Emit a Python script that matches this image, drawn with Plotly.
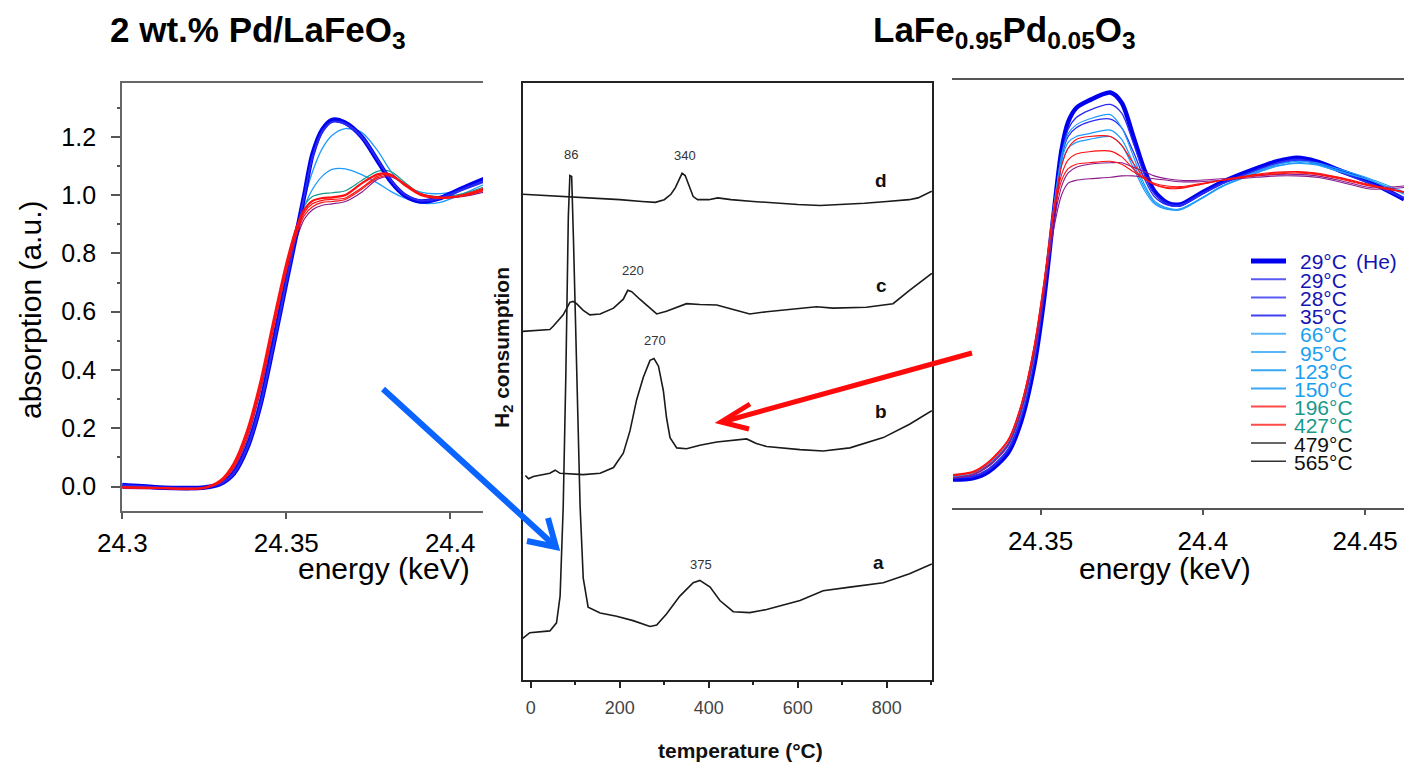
import plotly.graph_objects as go

W, H = 1404, 764
FONT = "Liberation Sans, Arial, sans-serif"

def px(x):
    return x / W

def py(y):
    return 1 - y / H

# ---------------- Left panel: 2 wt.% Pd/LaFeO3 ----------------
E_left = [24.300, 24.310, 24.320, 24.325, 24.330, 24.334, 24.338, 24.342, 24.346, 24.350,
          24.353, 24.3555, 24.358, 24.361, 24.364, 24.368, 24.373, 24.378, 24.382, 24.386,
          24.391, 24.397, 24.404, 24.411]
L_he = [0.005, -0.002, -0.005, -0.003, 0.010, 0.045, 0.130, 0.275, 0.480, 0.700,
        0.862, 1.000, 1.140, 1.225, 1.258, 1.248, 1.200, 1.115, 1.045, 1.000,
        0.978, 0.990, 1.025, 1.058]
L_blue1 = [0.006, -0.001, -0.004, -0.002, 0.012, 0.048, 0.135, 0.280, 0.485, 0.705,
           0.865, 0.998, 1.130, 1.215, 1.250, 1.243, 1.198, 1.118, 1.050, 1.004,
           0.982, 0.992, 1.022, 1.052]
L_blue2 = [0.004, -0.003, -0.006, -0.004, 0.009, 0.043, 0.127, 0.270, 0.475, 0.695,
           0.858, 0.995, 1.132, 1.220, 1.252, 1.246, 1.202, 1.120, 1.048, 1.002,
           0.980, 0.988, 1.018, 1.048]
L_lb1 = [0.008, 0.000, -0.004, -0.002, 0.013, 0.050, 0.140, 0.290, 0.500, 0.715,
         0.870, 0.985, 1.080, 1.160, 1.205, 1.228, 1.215, 1.150, 1.080, 1.035,
         1.010, 1.005, 1.020, 1.050]
L_lb2 = [0.006, -0.001, -0.004, -0.002, 0.014, 0.055, 0.150, 0.300, 0.510, 0.730,
         0.880, 0.960, 1.020, 1.065, 1.088, 1.090, 1.070, 1.040, 1.012, 0.990,
         0.972, 0.975, 1.005, 1.040]
L_teal = [0.000, -0.003, -0.006, -0.002, 0.020, 0.070, 0.180, 0.340, 0.550, 0.750,
          0.890, 0.965, 0.995, 1.005, 1.008, 1.015, 1.050, 1.082, 1.080, 1.045,
          1.005, 0.995, 1.005, 1.030]
L_red1 = [-0.002, -0.004, -0.007, -0.004, 0.022, 0.080, 0.190, 0.355, 0.565, 0.765,
          0.885, 0.950, 0.980, 0.990, 0.992, 1.000, 1.040, 1.072, 1.070, 1.035,
          1.000, 0.990, 1.000, 1.025]
L_red2 = [-0.003, -0.005, -0.008, -0.005, 0.018, 0.072, 0.178, 0.340, 0.550, 0.750,
          0.870, 0.940, 0.970, 0.982, 0.985, 0.990, 1.025, 1.065, 1.068, 1.040,
          1.005, 0.992, 0.998, 1.020]
L_red3 = [-0.004, -0.006, -0.009, -0.006, 0.015, 0.066, 0.170, 0.330, 0.535, 0.735,
          0.860, 0.930, 0.960, 0.975, 0.978, 0.985, 1.020, 1.060, 1.065, 1.040,
          1.005, 0.993, 0.997, 1.018]
L_purple = [-0.006, -0.008, -0.011, -0.008, 0.012, 0.060, 0.160, 0.320, 0.520, 0.720,
            0.845, 0.918, 0.950, 0.965, 0.970, 0.978, 1.010, 1.055, 1.062, 1.038,
            1.003, 0.990, 0.995, 1.012]

# ---------------- Right panel: LaFe0.95Pd0.05O3 ----------------
E_right = [24.323, 24.329, 24.334, 24.340, 24.344, 24.348, 24.351, 24.354, 24.3565, 24.3585,
           24.361, 24.365, 24.3715, 24.375, 24.3785, 24.382, 24.385, 24.389, 24.393, 24.399,
           24.406, 24.4165, 24.423, 24.429, 24.435, 24.442, 24.4515, 24.462]
R_he = [0.013, 0.017, 0.040, 0.105, 0.212, 0.401, 0.626, 0.921, 1.146, 1.240,
        1.288, 1.314, 1.341, 1.306, 1.193, 1.075, 1.004, 0.963, 0.957, 0.993,
        1.034, 1.081, 1.105, 1.117, 1.105, 1.075, 1.034, 0.975]
R_blue1 = [0.018, 0.022, 0.045, 0.112, 0.222, 0.415, 0.640, 0.925, 1.130, 1.215,
           1.255, 1.280, 1.300, 1.270, 1.170, 1.060, 0.995, 0.960, 0.955, 0.990,
           1.030, 1.075, 1.100, 1.112, 1.100, 1.070, 1.030, 0.980]
R_blue2 = [0.020, 0.025, 0.050, 0.118, 0.230, 0.425, 0.650, 0.930, 1.120, 1.190,
           1.220, 1.240, 1.250, 1.220, 1.140, 1.045, 0.985, 0.955, 0.952, 0.988,
           1.028, 1.070, 1.095, 1.108, 1.097, 1.068, 1.028, 0.978]
R_lb1 = [0.025, 0.032, 0.060, 0.130, 0.245, 0.440, 0.665, 0.940, 1.125, 1.200,
         1.230, 1.250, 1.265, 1.220, 1.125, 1.025, 0.970, 0.945, 0.940, 0.975,
         1.020, 1.070, 1.095, 1.105, 1.100, 1.078, 1.045, 1.000]
R_lb2 = [0.030, 0.036, 0.066, 0.138, 0.255, 0.450, 0.675, 0.945, 1.110, 1.170,
         1.190, 1.200, 1.212, 1.180, 1.100, 1.015, 0.965, 0.942, 0.938, 0.973,
         1.018, 1.065, 1.090, 1.100, 1.095, 1.072, 1.040, 0.995]
R_lb3 = [0.022, 0.030, 0.058, 0.128, 0.240, 0.435, 0.660, 0.930, 1.095, 1.150,
         1.170, 1.180, 1.190, 1.160, 1.085, 1.005, 0.960, 0.940, 0.942, 0.975,
         1.020, 1.065, 1.088, 1.098, 1.093, 1.070, 1.040, 0.992]
R_red1 = [0.030, 0.040, 0.075, 0.150, 0.270, 0.470, 0.690, 0.940, 1.090, 1.150,
          1.180, 1.190, 1.190, 1.160, 1.100, 1.050, 1.025, 1.012, 1.012, 1.025,
          1.040, 1.060, 1.068, 1.070, 1.065, 1.050, 1.025, 1.000]
R_red2 = [0.028, 0.038, 0.072, 0.148, 0.268, 0.468, 0.685, 0.930, 1.060, 1.110,
          1.130, 1.138, 1.140, 1.120, 1.080, 1.045, 1.025, 1.015, 1.015, 1.025,
          1.040, 1.058, 1.065, 1.068, 1.062, 1.048, 1.022, 1.000]
R_red3 = [0.026, 0.036, 0.070, 0.145, 0.265, 0.465, 0.680, 0.920, 1.040, 1.080,
          1.095, 1.100, 1.105, 1.095, 1.070, 1.045, 1.030, 1.020, 1.018, 1.028,
          1.040, 1.056, 1.062, 1.065, 1.060, 1.045, 1.020, 0.998]
R_purple1 = [0.020, 0.030, 0.062, 0.135, 0.250, 0.445, 0.655, 0.890, 1.020, 1.065,
             1.085, 1.095, 1.100, 1.100, 1.085, 1.070, 1.055, 1.045, 1.040, 1.040,
             1.045, 1.055, 1.060, 1.060, 1.055, 1.040, 1.015, 1.020]
R_purple2 = [0.018, 0.028, 0.058, 0.130, 0.245, 0.440, 0.645, 0.870, 0.990, 1.030,
             1.040, 1.045, 1.050, 1.055, 1.055, 1.050, 1.045, 1.040, 1.035, 1.035,
             1.040, 1.050, 1.055, 1.055, 1.050, 1.035, 1.010, 1.015]

# ---------------- Middle panel: H2-TPR ----------------
T_a = [-18, -2, 43, 58, 66, 73, 79, 84.5, 88, 92, 96, 103, 111, 118, 129, 156, 193, 230, 268,
       283, 305, 335, 365, 380, 403, 425, 455, 492, 530, 605, 657, 717, 792, 851, 901]
H_a = [9.3, 10.6, 11.0, 12.8, 18.8, 38.8, 68.8, 103.8, 113.0, 112.8, 98.8, 68.8, 38.8, 22.8,
       16.3, 15.0, 14.3, 13.3, 12.0, 12.3, 14.8, 18.8, 21.8, 22.3, 20.8, 17.8, 15.3, 15.1,
       15.8, 17.8, 20.0, 20.8, 21.8, 23.8, 26.0]
T_b = [-12, -5, 6, 43, 55, 66, 118, 156, 186, 208, 223, 238, 253, 268, 277, 287, 298, 305,
       313, 328, 350, 380, 418, 455, 485, 507, 530, 605, 657, 717, 792, 851, 901]
H_b = [45.8, 45.1, 45.6, 46.3, 47.0, 46.3, 46.0, 46.3, 47.6, 50.8, 55.8, 62.8, 67.8, 71.6,
       72.0, 70.3, 64.8, 58.8, 54.3, 52.0, 51.8, 52.6, 53.3, 53.6, 54.0, 53.0, 52.3, 51.6,
       51.3, 52.0, 54.3, 57.3, 60.3]
T_c = [-18, 43, 51, 73, 88, 95, 103, 118, 133, 156, 186, 208, 218, 227, 245, 268, 283, 305,
       350, 380, 418, 455, 492, 530, 605, 642, 679, 754, 814, 851, 901]
H_c = [78.1, 78.5, 79.3, 81.8, 84.6, 84.8, 84.3, 82.8, 81.8, 82.0, 83.3, 85.3, 87.3, 87.0,
       85.3, 83.3, 82.0, 82.6, 84.3, 84.1, 84.0, 83.0, 82.0, 82.5, 83.2, 83.6, 83.3, 83.5,
       84.3, 87.3, 91.1]
T_d = [-18, 0, 50, 100, 150, 200, 250, 280, 300, 315, 325, 333, 340, 347, 355, 365, 375, 400,
       420, 450, 500, 550, 600, 650, 700, 750, 800, 850, 870, 885, 901]
H_d = [108.8, 108.7, 108.5, 108.3, 108.0, 107.6, 107.2, 107.0, 107.6, 108.8, 110.3, 112.0,
       113.5, 113.0, 110.8, 108.3, 107.6, 107.6, 108.0, 107.6, 107.2, 106.8, 106.5, 106.3,
       106.5, 106.8, 107.2, 107.6, 108.0, 108.8, 109.5]

peak_labels = ["86", "340", "220", "270", "375"]
peak_T = [90, 346, 229, 279, 383]
peak_H = [117.8, 117.6, 91.8, 76.0, 25.8]
curve_letters = ["d", "c", "b", "a"]
letter_T = [788, 788, 788, 782]
letter_H = [112.0, 88.3, 60.1, 26.3]

legend_labels = ["29°C", "29°C", "28°C", "35°C", "66°C", "95°C", "123°C", "150°C",
                 "196°C", "427°C", "479°C", "565°C"]

# ---------------- Styles ----------------
C_HE = "#0000ee"
C_BLUE = "#2a2af5"
C_LB = "#1e9bff"
C_TEAL = "#139a8c"
C_RED = "#ff1010"
C_PURPLE = "#8a1a8a"

fig = go.Figure()

left_series = [
    (L_lb1, C_LB, 1.3), (L_lb2, C_LB, 1.3), (L_purple, C_PURPLE, 1.2),
    (L_teal, C_TEAL, 1.2), (L_he, C_HE, 4.5), (L_blue1, C_BLUE, 1.5), (L_blue2, C_BLUE, 1.5),
    (L_red3, C_RED, 1.2), (L_red2, C_RED, 1.2), (L_red1, C_RED, 2.2),
]
for ys, col, w in left_series:
    fig.add_trace(go.Scatter(x=E_left, y=ys, mode="lines", xaxis="x", yaxis="y",
                             line=dict(color=col, width=w, shape="spline", smoothing=0.8),
                             showlegend=False, hoverinfo="skip"))

right_series = [
    (R_he, C_HE, 4.5), (R_blue1, C_BLUE, 1.3), (R_blue2, C_BLUE, 1.3),
    (R_lb1, C_LB, 1.2), (R_lb2, C_LB, 1.2), (R_lb3, C_LB, 1.2),
    (R_purple1, C_PURPLE, 1.1), (R_purple2, C_PURPLE, 1.1),
    (R_red1, C_RED, 1.1), (R_red2, C_RED, 1.1), (R_red3, C_RED, 1.1),
]
for ys, col, w in right_series:
    fig.add_trace(go.Scatter(x=E_right, y=ys, mode="lines", xaxis="x3", yaxis="y3",
                             line=dict(color=col, width=w, shape="spline", smoothing=0.8),
                             showlegend=False, hoverinfo="skip"))

for ts, hs in [(T_a, H_a), (T_b, H_b), (T_c, H_c), (T_d, H_d)]:
    fig.add_trace(go.Scatter(x=ts, y=hs, mode="lines", xaxis="x2", yaxis="y2",
                             line=dict(color="#1a1a1a", width=1.6),
                             showlegend=False, hoverinfo="skip"))

annotations = []

def add_text(text, x, y, size, color="black", xanchor="center", angle=0, ref=("paper", "paper")):
    d = dict(text=text, x=x, y=y, xref=ref[0], yref=ref[1], xanchor=xanchor,
             yanchor="middle", showarrow=False, textangle=angle,
             font=dict(family=FONT, size=size, color=color))
    annotations.append(d)

# titles
add_text("<b>2 wt.% Pd/LaFeO<sub>3</sub></b>", px(108), py(32), 35, xanchor="left")
add_text("<b>LaFe<sub>0.95</sub>Pd<sub>0.05</sub>O<sub>3</sub></b>", px(871), py(32), 35,
         xanchor="left")
# axis titles
add_text("absorption (a.u.)", px(30), py(310), 30, angle=-90)
add_text("energy (keV)", px(384), py(568), 30)
add_text("energy (keV)", px(1165), py(568), 30)
add_text("<b>H<sub>2</sub> consumption</b>", px(503), py(348), 21, color="#111", angle=-90)
add_text("<b>temperature (°C)</b>", px(740), py(750), 21, color="#111")
for lab, t, h in zip(peak_labels, peak_T, peak_H):
    add_text(lab, t, h, 13, color="#333", ref=("x2", "y2"))
for lab, t, h in zip(curve_letters, letter_T, letter_H):
    add_text("<b>" + lab + "</b>", t, h, 19, color="#111", ref=("x2", "y2"))

# legend (manual)
leg_line_cols = [C_HE, "#5a5af5", "#5a5af5", "#4040f0", "#5ab8f8", "#5ab8f8", "#3aa8f5",
                 "#3aa8f5", "#ff4a4a", "#ff4a4a", "#333333", "#333333"]
leg_line_w = [5, 2, 2, 2, 2, 2, 2, 2, 2, 2, 1.6, 1.6]
leg_text_cols = ["#1414b4"] * 4 + ["#1aa0f0"] * 4 + ["#179a8c"] * 2 + ["#111111"] * 2
shapes = []
for i, lab in enumerate(legend_labels):
    yy = 261 + i * 18.2
    shapes.append(dict(type="line", xref="paper", yref="paper", x0=px(1251), x1=px(1286),
                       y0=py(yy), y1=py(yy), line=dict(color=leg_line_cols[i],
                                                       width=leg_line_w[i])))
    add_text(lab, px(1323), py(yy + 1), 21, color=leg_text_cols[i])
add_text("(He)", px(1354), py(262), 21, color=leg_text_cols[0], xanchor="left")

# arrows
def path(points):
    return "M " + " L ".join("%f,%f" % (px(a), py(b)) for a, b in points)

shapes.append(dict(type="path", xref="paper", yref="paper",
                   path=path([(383, 389), (555, 546)]),
                   line=dict(color="#0a64ff", width=6)))
shapes.append(dict(type="path", xref="paper", yref="paper",
                   path=path([(548, 518), (556, 547), (527, 541)]),
                   line=dict(color="#0a64ff", width=6)))
shapes.append(dict(type="path", xref="paper", yref="paper",
                   path=path([(972, 353), (722, 422)]),
                   line=dict(color="#ff0a0a", width=5)))
shapes.append(dict(type="path", xref="paper", yref="paper",
                   path=path([(750, 404), (721, 422), (749, 429)]),
                   line=dict(color="#ff0a0a", width=5)))

axis_common = dict(showgrid=False, zeroline=False, automargin=False)
fig.update_layout(
    width=W, height=H, margin=dict(l=0, r=0, t=0, b=0, autoexpand=False),
    paper_bgcolor="white", plot_bgcolor="white", showlegend=False,
    xaxis=dict(domain=[px(122), px(483)], range=[24.2999, 24.41], anchor="y",
               tick0=24.3, dtick=0.05, ticks="outside", ticklen=6, tickwidth=1.5,
               tickcolor="#555", showline=True, linecolor="#666", linewidth=1.8,
               mirror=True, tickfont=dict(family=FONT, size=26, color="black"),
               ticklabelstandoff=2, **axis_common),
    yaxis=dict(domain=[py(511), py(82.7)], range=[-0.0838, 1.3855], anchor="x",
               tick0=0, dtick=0.2, tickformat=".1f", ticks="outside", ticklen=9,
               tickwidth=1.5, tickcolor="#555", showline=True, linecolor="#666",
               linewidth=1.8, tickfont=dict(family=FONT, size=25, color="black"),
               ticklabelstandoff=10,
               minor=dict(dtick=0.1, ticks="outside", ticklen=3, tickcolor="#555"),
               **axis_common),
    xaxis2=dict(domain=[px(522.7), px(932)], range=[-18, 901.5], anchor="y2",
                tick0=0, dtick=200, ticks="outside", ticklen=6, tickwidth=2,
                tickcolor="#222", showline=True, linecolor="#222", linewidth=2,
                mirror=True, tickfont=dict(family=FONT, size=18, color="#444"),
                ticklabelstandoff=4,
                minor=dict(dtick=100, ticks="outside", ticklen=3, tickcolor="#222"),
                **axis_common),
    yaxis2=dict(domain=[py(680), py(82.7)], range=[0, 133.8], anchor="x2",
                showticklabels=False, ticks="", showline=True, linecolor="#222",
                linewidth=2, mirror=True, **axis_common),
    xaxis3=dict(domain=[px(952), 1.0], range=[24.3227, 24.462], anchor="y3",
                tick0=24.35, dtick=0.05, ticks="outside", ticklen=5, tickwidth=1.5,
                tickcolor="#555", showline=True, linecolor="#555", linewidth=1.8,
                mirror=True, tickfont=dict(family=FONT, size=26, color="black"),
                ticklabelstandoff=4, **axis_common),
    yaxis3=dict(domain=[py(507.7), py(80)], range=[-0.0838, 1.384], anchor="x3",
                showticklabels=False, ticks="", showline=False, **axis_common),
    annotations=annotations, shapes=shapes,
)

fig.write_html("out.html")
